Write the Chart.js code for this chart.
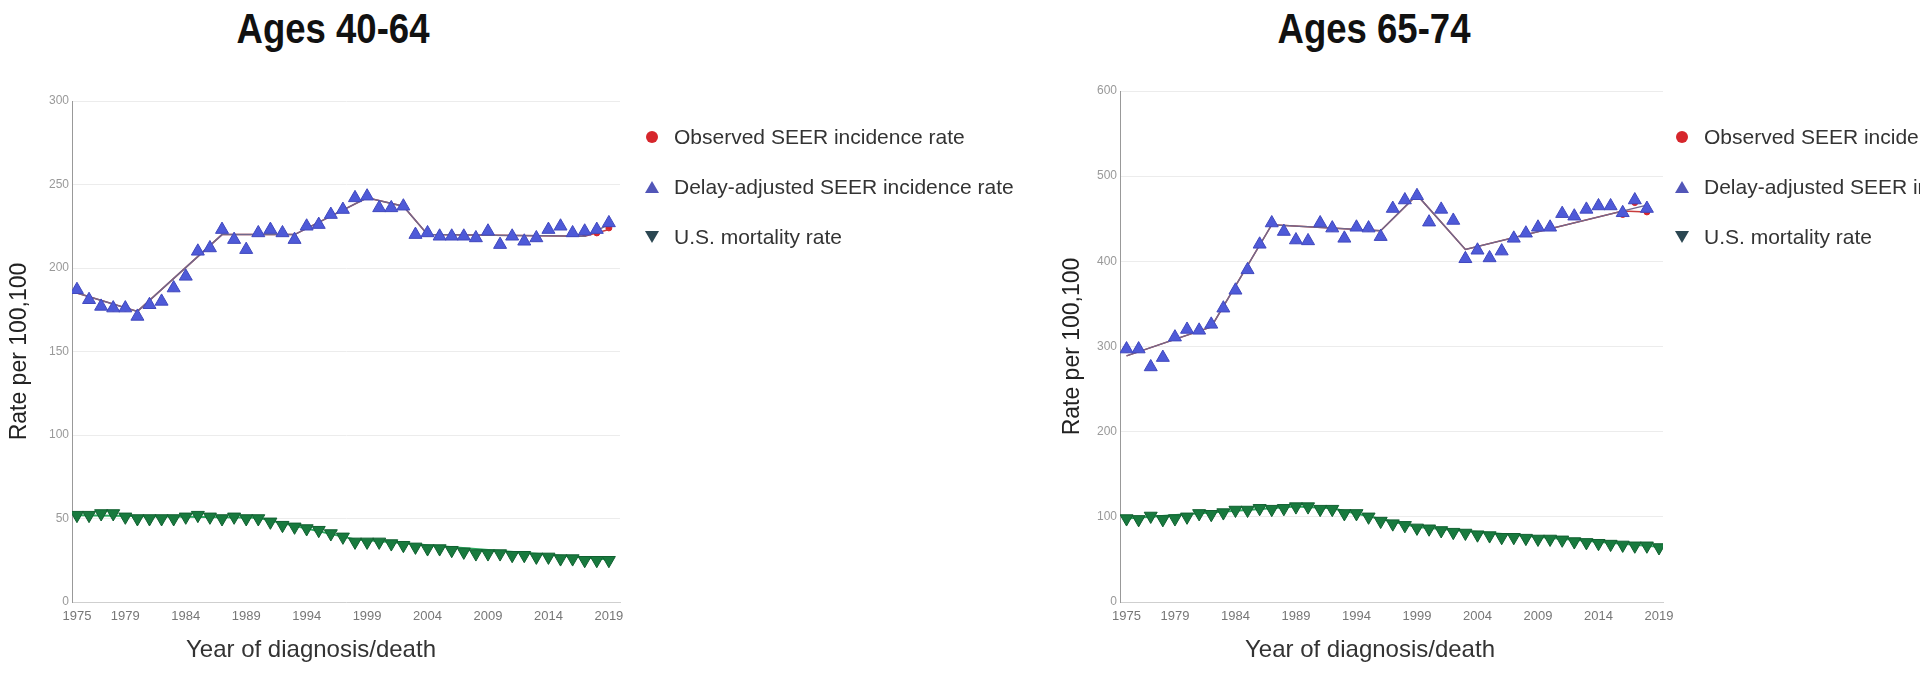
<!DOCTYPE html>
<html>
<head>
<meta charset="utf-8">
<title>SEER rates by age</title>
<script src="https://cdn.jsdelivr.net/npm/chart.js@4.4.1/dist/chart.umd.min.js"></script>
<style>
  body { margin: 0; background: #fff; width: 1920px; height: 673px; overflow: hidden; position: relative;
         font-family: "Liberation Sans", Arial, sans-serif; }
  canvas { position: absolute; top: 0; }
  .panel-title { position: absolute; top: 8px; font-weight: bold; font-size: 42px; line-height: 42px; color: #111;
                 white-space: nowrap; transform: translateX(-50%) scaleX(0.87); }
  .x-title { position: absolute; top: 637px; font-size: 24px; line-height: 24px; color: #333; white-space: nowrap;
             transform: translateX(-50%); }
  .legend-row { position: absolute; font-size: 21px; line-height: 24px; color: #333; white-space: nowrap; }
  .mk { position: absolute; width: 0; height: 0; }
</style>
</head>
<body>
<div class="panel-title" style="left:333px">Ages 40-64</div>
<div class="panel-title" style="left:1374px">Ages 65-74</div>
<canvas id="chart4064" width="650" height="673" style="left:0px"></canvas>
<canvas id="chart6574" width="640" height="673" style="left:1050px"></canvas>
<div class="x-title" style="left:311px">Year of diagnosis/death</div>
<div class="x-title" style="left:1370px">Year of diagnosis/death</div>
<div id="legends"></div>

<script>
const years = [1975, 1976, 1977, 1978, 1979, 1980, 1981, 1982, 1983, 1984, 1985, 1986, 1987, 1988, 1989,
  1990, 1991, 1992, 1993, 1994, 1995, 1996, 1997, 1998, 1999, 2000, 2001, 2002, 2003, 2004,
  2005, 2006, 2007, 2008, 2009, 2010, 2011, 2012, 2013, 2014, 2015, 2016, 2017, 2018, 2019];
const xTickYears = [1975, 1979, 1984, 1989, 1994, 1999, 2004, 2009, 2014, 2019];
const legendLabels = ["Observed SEER incidence rate", "Delay-adjusted SEER incidence rate", "U.S. mortality rate"];

// Ages 40-64
const observed4064 = [187, 181, 177, 176, 176, 171, 178, 180, 188, 195, 210, 212, 223, 217, 211,
  221, 223, 221, 217, 225, 226, 232, 235, 242, 243, 236, 236, 237, 220, 221,
  219, 219, 219, 218, 222, 214, 219, 216, 218, 223, 225, 221, 221, 221, 224];
const delayAdj4064 = [187, 181, 177, 176, 176, 171, 178, 180, 188, 195, 210, 212, 223, 217, 211,
  221, 223, 221, 217, 225, 226, 232, 235, 242, 243, 236, 236, 237, 220, 221,
  219, 219, 219, 218, 222, 214, 219, 216, 218, 223, 225, 221, 222, 223, 227];
const mortality4064 = [52, 52, 53, 53, 51, 50, 50, 50, 50, 51, 52, 51, 50, 51, 50,
  50, 48, 46, 45, 44, 43, 41, 39, 36, 36, 36, 35, 34, 33, 32,
  32, 31, 30, 29, 29, 29, 28, 28, 27, 27, 26, 26, 25, 25, 25];
const delayTrendYears4064 = [1975, 1980, 1987, 1993, 1999, 2002, 2004, 2017, 2019];
const delayTrend4064 = [185, 174, 220, 220, 242, 237, 220, 219, 226];
const obsTrendYears4064 = [1975, 1980, 1987, 1993, 1999, 2002, 2004, 2017, 2019];
const obsTrend4064 = [185, 174, 220, 220, 242, 237, 220, 219, 223];
const mortTrendYears4064 = [1975, 1990, 1998, 2019];
const mortTrend4064 = [52, 50.5, 37.5, 25.5];

// Ages 65-74
const observed6574 = [297, 297, 276, 287, 311, 320, 319, 326, 345, 366, 390, 420, 445, 435, 425,
  424, 445, 439, 427, 440, 439, 429, 462, 472, 477, 446, 461, 448, 403, 413,
  404, 412, 427, 433, 440, 440, 456, 453, 461, 465, 465, 455, 469, 458, null];
const delayAdj6574 = [297, 297, 276, 287, 311, 320, 319, 326, 345, 366, 390, 420, 445, 435, 425,
  424, 445, 439, 427, 440, 439, 429, 462, 472, 477, 446, 461, 448, 403, 413,
  404, 412, 427, 433, 440, 440, 456, 453, 461, 465, 465, 457, 472, 462, null];
const mortality6574 = [98, 97, 101, 97, 98, 100, 104, 103, 105, 108, 108, 110, 109, 110, 112,
  112, 109, 109, 104, 104, 100, 95, 92, 90, 87, 86, 84, 82, 81, 79,
  78, 76, 76, 75, 74, 74, 73, 71, 70, 69, 68, 67, 66, 66, 64];
const delayTrendYears6574 = [1975, 1982, 1987, 1996, 1999, 2003, 2018];
const delayTrend6574 = [289, 323, 443, 436, 478, 414, 466];
const obsTrendYears6574 = [1975, 1982, 1987, 1996, 1999, 2003, 2016, 2018];
const obsTrend6574 = [289, 323, 443, 436, 478, 414, 459, 458];
const mortTrendYears6574 = [1975, 1989, 1992, 1999, 2019];
const mortTrend6574 = [98, 112, 110, 88, 65];

Chart.defaults.font.family = '"Liberation Sans", Arial, sans-serif';

const BLUE = "rgb(78, 90, 216)";
const BLUE_EDGE = "rgb(64, 72, 190)";
const RED = "rgb(214, 38, 44)";
const GREEN = "rgb(24, 122, 62)";
const GREEN_EDGE = "rgb(16, 96, 48)";

function pts(xs, ys) {
  return xs.map((x, i) => ({ x: x, y: ys[i] })).filter(p => p.y !== null);
}

function makeChart(id, c) {
  const markers = { showLine: false, pointBorderWidth: 1, pointHoverRadius: 7 };
  return new Chart(document.getElementById(id), {
    type: "line",
    data: {
      datasets: [
        Object.assign({}, markers, {
          label: legendLabels[1], data: pts(years, c.delayAdj), pointStyle: "triangle", pointRadius: 7.5,
          backgroundColor: BLUE, borderColor: BLUE_EDGE, order: 1
        }),
        Object.assign({}, markers, {
          label: legendLabels[0], data: pts(years, c.observed), pointStyle: "circle", pointRadius: 3,
          backgroundColor: RED, borderColor: RED, order: 4
        }),
        Object.assign({}, markers, {
          label: legendLabels[2], data: pts(years, c.mortality), pointStyle: "triangle", pointRotation: 180,
          pointRadius: 7.5, backgroundColor: GREEN, borderColor: GREEN_EDGE, order: 1
        }),
        { label: "delay trend", data: pts(c.delayTrendYears, c.delayTrend), pointRadius: 0,
          borderColor: "rgb(112, 104, 140)", borderWidth: 1.5, order: 2 },
        { label: "observed trend", data: pts(c.obsTrendYears, c.obsTrend), pointRadius: 0,
          borderColor: "rgb(200, 60, 60)", borderWidth: 1.5, order: 3 },
        { label: "mortality trend", data: pts(c.mortTrendYears, c.mortTrend), pointRadius: 0,
          borderColor: "rgb(46, 170, 96)", borderWidth: 2, order: 2 }
      ]
    },
    options: {
      responsive: false,
      animation: false,
      layout: { padding: { top: c.padTop, right: c.padRight, bottom: 0, left: 0 } },
      plugins: { legend: { display: false }, tooltip: { enabled: false } },
      scales: {
        x: {
          type: "linear",
          min: c.xMin,
          max: c.xMax,
          afterBuildTicks: s => { s.ticks = xTickYears.map(v => ({ value: v })); },
          afterFit: s => { s.height = 71; },
          grid: { display: false, drawTicks: false },
          border: { display: true, color: "#cfcfcf" },
          ticks: { autoSkip: false, maxRotation: 0, padding: 7, color: "#777", font: { size: 13 },
                   callback: v => String(v) }
        },
        y: {
          min: 0,
          max: c.yMax,
          afterFit: s => { s.width = c.axisWidth; },
          ticks: { stepSize: c.yStep, padding: 3, color: "#999", font: { size: 12 } },
          grid: { color: "#ececec", drawTicks: false },
          border: { color: "#999" },
          title: { display: true, text: "Rate per 100,100", color: "#222", font: { size: 23 },
                   padding: { top: c.titlePad, bottom: 0 } }
        }
      }
    }
  });
}

makeChart("chart4064", {
  observed: observed4064, delayAdj: delayAdj4064, mortality: mortality4064,
  delayTrendYears: delayTrendYears4064, delayTrend: delayTrend4064,
  obsTrendYears: obsTrendYears4064, obsTrend: obsTrend4064,
  mortTrendYears: mortTrendYears4064, mortTrend: mortTrend4064,
  yMax: 300, yStep: 50, xMin: 1974.59, xMax: 2019.92,
  padTop: 101, padRight: 30, axisWidth: 72, titlePad: 6
});

makeChart("chart6574", {
  observed: observed6574, delayAdj: delayAdj6574, mortality: mortality6574,
  delayTrendYears: delayTrendYears6574, delayTrend: delayTrend6574,
  obsTrendYears: obsTrendYears6574, obsTrend: obsTrend6574,
  mortTrendYears: mortTrendYears6574, mortTrend: mortTrend6574,
  yMax: 600, yStep: 100, xMin: 1974.46, xMax: 2019.33,
  padTop: 91, padRight: 27, axisWidth: 70, titlePad: 9
});

// legends, one per panel
const legendColors = [RED, "rgb(82, 86, 184)", "rgb(43, 71, 82)"];
const legendX = [652, 1682];
const legendRowY = [137, 187, 237];
const box = document.getElementById("legends");
legendX.forEach(cx => {
  legendLabels.forEach((text, i) => {
    const cy = legendRowY[i];
    const mk = document.createElement("div");
    mk.className = "mk";
    if (i === 0) {
      mk.style.cssText = `left:${cx - 6}px;top:${cy - 6}px;width:12px;height:12px;border-radius:50%;background:${legendColors[i]}`;
    } else if (i === 1) {
      mk.style.cssText = `left:${cx - 7}px;top:${cy - 6}px;border-left:7px solid transparent;border-right:7px solid transparent;border-bottom:12px solid ${legendColors[i]}`;
    } else {
      mk.style.cssText = `left:${cx - 7}px;top:${cy - 6}px;border-left:7px solid transparent;border-right:7px solid transparent;border-top:12px solid ${legendColors[i]}`;
    }
    box.appendChild(mk);
    const row = document.createElement("div");
    row.className = "legend-row";
    row.style.left = (cx + 22) + "px";
    row.style.top = (cy - 12) + "px";
    row.textContent = text;
    box.appendChild(row);
  });
});
</script>
</body>
</html>
